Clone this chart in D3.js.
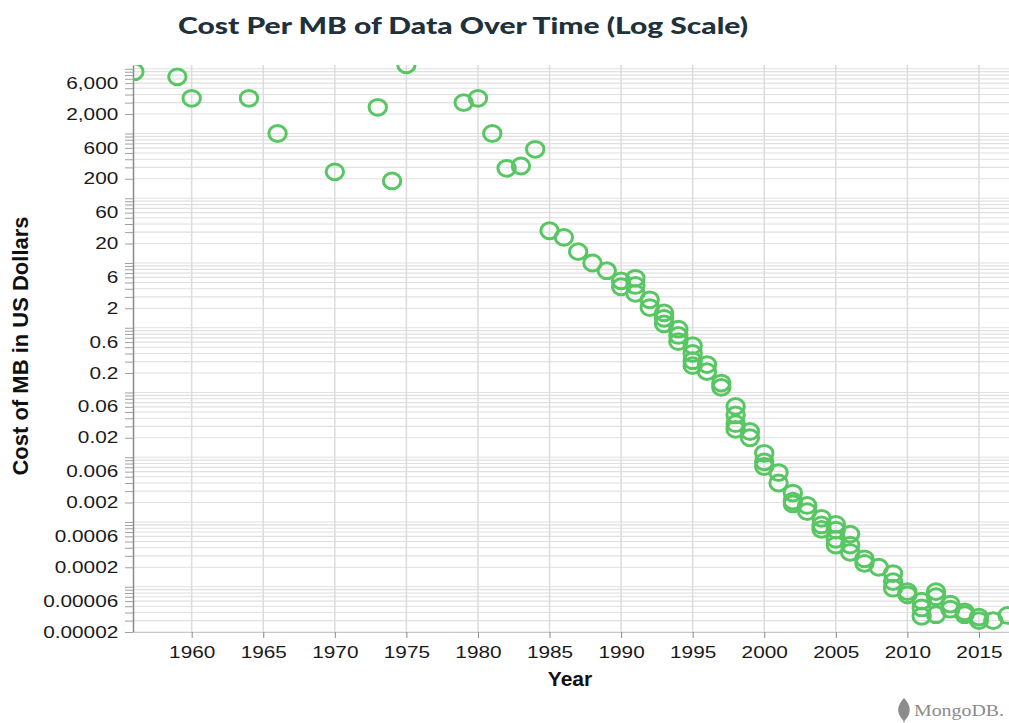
<!DOCTYPE html>
<html>
<head>
<meta charset="utf-8">
<script src="https://cdn.jsdelivr.net/npm/d3@7"></script>
<style>
  body { margin: 0; background: #fff; }
  svg { display: block; }
</style>
</head>
<body>
<div id="container"></div>
<script>
    // Data
    const years = [
        1956, 1959, 1960, 1964, 1966, 1970, 1973, 1974, 1975, 1979, 1980, 1981, 1982, 1983, 1984,
        1985, 1986, 1987, 1988, 1989,
        1990, 1990, 1991, 1991, 1991, 1992, 1992, 1993, 1993, 1993,
        1994, 1994, 1994, 1995, 1995, 1995, 1995, 1996, 1996, 1997, 1997,
        1998, 1998, 1998, 1998, 1999, 1999,
        2000, 2000, 2000, 2001, 2001, 2002, 2002, 2002, 2003, 2003,
        2004, 2004, 2004, 2005, 2005, 2005, 2005, 2006, 2006, 2006, 2007, 2007, 2008,
        2009, 2009, 2009, 2010, 2010, 2011, 2011, 2011, 2012, 2012, 2012,
        2013, 2013, 2014, 2014, 2015, 2015, 2016, 2017
    ];
    const costs = [
        9000, 7500, 3500, 3500, 1000, 256, 2540, 185, 11500, 3000, 3500, 1000, 290, 315, 570,
        31.5, 24.9, 15, 10, 7.6,
        5.3, 4.3, 5.8, 4.5, 3.4, 2.7, 2.05, 1.7, 1.4, 1.15,
        0.95, 0.76, 0.61, 0.53, 0.4, 0.31, 0.26, 0.27, 0.21, 0.14, 0.12,
        0.061, 0.045, 0.033, 0.027, 0.025, 0.02,
        0.0115, 0.0085, 0.0072, 0.0058, 0.004, 0.0028, 0.0021, 0.0019, 0.0018, 0.00145,
        0.00114, 0.0009, 0.00077, 0.00092, 0.00075, 0.00054, 0.00044, 0.00065, 0.00044, 0.00034,
        0.00027, 0.00023, 0.0002,
        0.00016, 0.00012, 0.000095, 0.000084, 0.000075, 0.00006, 0.000047, 0.000035,
        0.000084, 0.00007, 0.000037,
        0.000054, 0.000045, 0.000041, 0.000037, 0.000034, 0.00003, 0.00003, 0.000036
    ];
    const xTickValues = [1960, 1965, 1970, 1975, 1980, 1985, 1990, 1995, 2000, 2005, 2010, 2015];
    const yLabelValues = [6000, 2000, 600, 200, 60, 20, 6, 2, 0.6, 0.2, 0.06, 0.02,
        0.006, 0.002, 0.0006, 0.0002, 0.00006, 0.00002];
    const yLabelTexts = ["6,000", "2,000", "600", "200", "60", "20", "6", "2", "0.6", "0.2",
        "0.06", "0.02", "0.006", "0.002", "0.0006", "0.0002", "0.00006", "0.00002"];

    // Set up SVG
    const width = 1009, height = 723;
    const plot = { left: 133, top: 65, right: 1009, bottom: 632 };

    const svg = d3.select("#container")
        .append("svg")
        .attr("width", width)
        .attr("height", height);

    const x = d3.scaleLinear()
        .domain([1955.9, 2017.1])
        .range([plot.left, plot.right]);

    const y = d3.scaleLog()
        .domain([0.00002, 11430])
        .range([plot.bottom, plot.top]);

    svg.append("clipPath").attr("id", "clip")
        .append("rect")
        .attr("x", plot.left).attr("y", plot.top)
        .attr("width", plot.right - plot.left).attr("height", plot.bottom - plot.top);

    const tickFont = "'Liberation Sans', Arial, sans-serif";
    const stretch = 1.3;

    // Grid
    const minorTicks = y.ticks();
    svg.append("g")
        .selectAll("line")
        .data(minorTicks)
        .join("line")
        .attr("x1", plot.left).attr("x2", plot.right)
        .attr("y1", d => y(d)).attr("y2", d => y(d))
        .attr("stroke", "#e0e0e0")
        .attr("stroke-width", 1.2);

    svg.append("g")
        .selectAll("line")
        .data(xTickValues)
        .join("line")
        .attr("x1", d => x(d)).attr("x2", d => x(d))
        .attr("y1", plot.top).attr("y2", plot.bottom)
        .attr("stroke", "#dcdcdc")
        .attr("stroke-width", 1.5);

    // Axes
    const labelFor = d => {
        const i = yLabelValues.findIndex(v => Math.abs(Math.log10(v) - Math.log10(d)) < 1e-6);
        return i < 0 ? "" : yLabelTexts[i];
    };

    const yAxis = svg.append("g")
        .attr("transform", `translate(${plot.left},0)`)
        .call(d3.axisLeft(y).tickValues(minorTicks).tickSize(8).tickSizeOuter(0).tickFormat(labelFor));
    yAxis.select(".domain").attr("stroke", "#8a8a8a").attr("stroke-width", 1.5);
    yAxis.selectAll(".tick line").attr("stroke", "#a0a0a0");
    yAxis.selectAll(".tick text")
        .attr("x", -14.7 / stretch)
        .attr("transform", `scale(${stretch},1)`)
        .attr("fill", "#1a1a1a")
        .style("font-family", tickFont)
        .style("font-size", "16px");

    const xAxis = svg.append("g")
        .attr("transform", `translate(0,${plot.bottom})`)
        .call(d3.axisBottom(x).tickValues(xTickValues).tickSize(6).tickSizeOuter(0).tickFormat(d3.format("d")));
    xAxis.select(".domain").attr("stroke", "#c8c8c8").attr("stroke-width", 1.2);
    xAxis.selectAll(".tick line").attr("stroke", "#8a8a8a");
    xAxis.selectAll(".tick text")
        .attr("y", 15)
        .attr("transform", `scale(${stretch},1)`)
        .attr("fill", "#1a1a1a")
        .style("font-family", tickFont)
        .style("font-size", "16px");

    // Points
    svg.append("g")
        .attr("clip-path", "url(#clip)")
        .selectAll("ellipse")
        .data(d3.zip(years, costs))
        .join("ellipse")
        .attr("cx", d => x(d[0]))
        .attr("cy", d => y(d[1]))
        .attr("rx", 8.7)
        .attr("ry", 7.9)
        .attr("fill", "none")
        .attr("stroke", "#58c763")
        .attr("stroke-width", 3);

    // Titles
    svg.append("text")
        .attr("x", 178).attr("y", 34)
        .attr("textLength", 570)
        .attr("lengthAdjust", "spacingAndGlyphs")
        .attr("fill", "#21313c")
        .style("font-family", "Lato, 'Open Sans', sans-serif")
        .style("font-weight", 900)
        .style("font-size", "23px")
        .text("Cost Per MB of Data Over Time (Log Scale)");

    svg.append("text")
        .attr("transform", "translate(28,346) rotate(-90)")
        .attr("text-anchor", "middle")
        .attr("fill", "#111")
        .style("font-family", tickFont)
        .style("font-weight", 700)
        .style("font-size", "22px")
        .text("Cost of MB in US Dollars");

    svg.append("text")
        .attr("x", 570).attr("y", 686)
        .attr("text-anchor", "middle")
        .attr("fill", "#111")
        .style("font-family", tickFont)
        .style("font-weight", 700)
        .style("font-size", "21px")
        .text("Year");

    // Logo
    const logo = svg.append("g").attr("fill", "#8c8c8c");
    logo.append("path")
        .attr("d", "M904,698 C909,703 911,709 909,714 C908,717 906,719 905,720 L904,723 L903,720 C902,719 900,717 899,714 C897,709 899,703 904,698 Z");
    logo.append("text")
        .attr("x", 914).attr("y", 716)
        .attr("textLength", 90)
        .attr("lengthAdjust", "spacingAndGlyphs")
        .style("font-family", "'Liberation Serif', 'DejaVu Serif', serif")
        .style("font-size", "17px")
        .text("MongoDB.");
</script>
</body>
</html>
